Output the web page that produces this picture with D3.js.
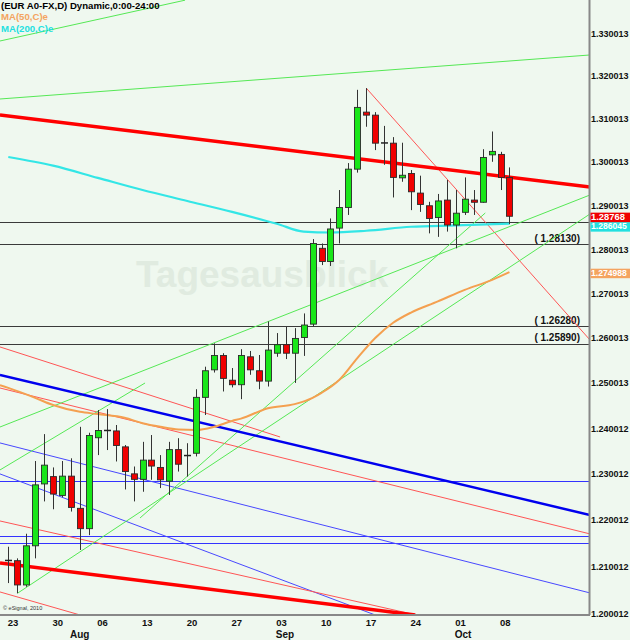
<!DOCTYPE html>
<html><head><meta charset="utf-8">
<script src="https://cdn.jsdelivr.net/npm/d3@7"></script>
<style>html,body{margin:0;padding:0;background:#eff8ef;}svg{display:block;}</style>
</head><body>
<script>
// ---------- DATA ----------
const dates = ["07-23","07-24","07-25","07-26","07-27","07-30","07-31","08-01","08-02","08-03",
"08-06","08-07","08-08","08-09","08-10","08-13","08-14","08-15","08-16","08-17",
"08-20","08-21","08-22","08-23","08-24","08-27","08-28","08-29","08-30","08-31",
"09-03","09-04","09-05","09-06","09-07","09-10","09-11","09-12","09-13","09-14",
"09-17","09-18","09-19","09-20","09-21","09-24","09-25","09-26","09-27","09-28",
"10-01","10-02","10-03","10-04","10-05","10-08","10-09"];
const open  = [1.2116,1.2114,1.2062,1.2146,1.2280,1.2296,1.2255,1.2297,1.2227,1.2183,
1.2381,1.2398,1.2396,1.2361,1.2302,1.2290,1.2332,1.2316,1.2286,1.2355,
1.2343,1.2347,1.2470,1.2531,1.2563,1.2508,1.2498,1.2560,1.2529,1.2506,
1.2568,1.2587,1.2568,1.2603,1.2633,1.2804,1.2774,1.2850,1.2897,1.2985,
1.3117,1.3110,1.3046,1.3045,1.2965,1.2975,1.2930,1.2901,1.2874,1.2914,
1.2857,1.2886,1.2914,1.2909,1.3018,1.3019,1.2966];
const high  = [1.2144,1.2119,1.2172,1.2330,1.2389,1.2316,1.2330,1.2336,1.2405,1.2392,
1.2442,1.2444,1.2409,1.2365,1.2318,1.2372,1.2387,1.2343,1.2372,1.2380,
1.2369,1.2488,1.2538,1.2590,1.2568,1.2535,1.2577,1.2573,1.2564,1.2639,
1.2613,1.2627,1.2624,1.2657,1.2825,1.2815,1.2872,1.2937,1.2999,1.3169,
1.3173,1.3117,1.3085,1.3059,1.3046,1.2983,1.2970,1.2910,1.2928,1.2960,
1.2937,1.2966,1.2937,1.3031,1.3072,1.3025,1.2989];
const low   = [1.2066,1.2044,1.2058,1.2119,1.2242,1.2225,1.2251,1.2220,1.2137,1.2169,
1.2343,1.2354,1.2329,1.2268,1.2242,1.2263,1.2289,1.2271,1.2256,1.2307,
1.2296,1.2340,1.2431,1.2525,1.2483,1.2492,1.2466,1.2520,1.2488,1.2494,
1.2560,1.2555,1.2502,1.2562,1.2627,1.2766,1.2764,1.2815,1.2880,1.2977,
1.3083,1.3029,1.2995,1.2920,1.2956,1.2891,1.2887,1.2838,1.2830,1.2842,
1.2804,1.2880,1.2880,1.2908,1.3002,1.2937,1.2859];
const close = [1.2113,1.2062,1.2146,1.2278,1.2321,1.2258,1.2297,1.2229,1.2183,1.2386,
1.2397,1.2396,1.2364,1.2307,1.2290,1.2332,1.2319,1.2289,1.2355,1.2323,
1.2341,1.2470,1.2529,1.2563,1.2512,1.2498,1.2563,1.2531,1.2506,1.2575,
1.2587,1.2568,1.2601,1.2631,1.2815,1.2774,1.2848,1.2897,1.2985,1.3128,
1.3110,1.3045,1.3045,1.2966,1.2971,1.2933,1.2904,1.2872,1.2912,1.2857,
1.2884,1.2916,1.2909,1.3012,1.3026,1.2966,1.2877];

const ma50Idx = [-0.93,0,3,5,8,10,13,15,17,19,21,23,25,26,29,32,34,35,37,39,41,43,45,48,51,54,56];
const ma50Val = [1.2497,1.2491,1.2469,1.2453,1.2438,1.2433,1.2425,1.2413,1.2405,1.2399,1.2398,1.2405,1.2418,1.2423,1.2446,1.2455,1.2469,1.2480,1.2509,1.2557,1.2602,1.2636,1.2659,1.2684,1.2710,1.2732,1.2750];
const ma200Idx = [0,5,10,15,20,25,30,33,36,40,45,50,56];
const ma200Val = [1.3013,1.2993,1.2965,1.2937,1.2912,1.2887,1.2860,1.2842,1.2840,1.2844,1.2853,1.2856,1.2860];

// trendlines: [index1, price1, index2, price2]
const greenLines = [
  [-0.93,1.32835,19.75,1.3380],
  [-0.93,1.31476,65,1.32506],
  [-0.93,1.24046,65,1.29257],
  [-0.93,1.23105,15.28,1.25018],
  [1.08,1.20449,65,1.28822],
  [14.72,1.22061,53.3,1.28845]
];
const redThickLines = [
  [-0.93,1.31103,65,1.29441],
  [-0.93,1.21091,45.47,1.19979]
];
const redThinLines = [
  [40,1.3173,65,1.25975],
  [-0.93,1.25820,30.37,1.23827],
  [-0.93,1.24907,65,1.21716],
  [-0.93,1.20470,8.02,1.19979],
  [-0.93,1.21996,45.58,1.19979]
];
const blueThickLines = [[-0.93,1.25196,65,1.22125]];
const blueThinLines = [
  [-0.93,1.23696,65,1.20449],
  [-0.93,1.23018,41.0,1.19979]
];
const blueLevels = [1.2287,1.2167,1.2153];
const blackLevels = [1.2863,1.2813,1.2628,1.2589];
const blackLevelLabels = ["","( 1.28130)","( 1.26280)","( 1.25890)"];

const priceTicks = ["1.330013","1.320013","1.310013","1.300013","1.290013","1.280013","1.270013","1.260013","1.250013","1.240012","1.230012","1.220012","1.210012","1.200012"];
const weekTickIdx = [0,5,10,15,20,25,30,35,40,45,50,55];
const weekTickLabels = ["23","30","06","13","20","27","03","10","17","24","01","08"];
const monthIdx = [7,30,50];
const monthLabels = ["Aug","Sep","Oct"];
const lastPrice = 1.28768, lastMA200 = 1.286045, lastMA50 = 1.274988;

// ---------- CHART ----------
const W = 630, H = 640, PW = 590, PH = 615;
const svg = d3.select("body").append("svg").attr("width", W).attr("height", H)
  .style("font-family", "'Liberation Sans', Arial, sans-serif");
svg.append("rect").attr("width", W).attr("height", H).attr("fill", "#eff8ef");

const x = d3.scaleLinear().domain([-0.928, 65]).range([0, PW]);
const y = d3.scaleLog().domain([1.20, 1.33]).range([614, 34]);

svg.append("clipPath").attr("id", "plot").append("rect").attr("width", PW).attr("height", PH);
const g = svg.append("g").attr("clip-path", "url(#plot)");

// watermark
g.append("text").attr("x", 136).attr("y", 287).text("Tagesausblick")
  .attr("font-size", 37).attr("font-weight", "bold").attr("fill", "#e0ebe0");

// level lines
blackLevels.forEach((v, k) => {
  g.append("line").attr("x1", 0).attr("x2", PW).attr("y1", Math.round(y(v)) + 0.5).attr("y2", Math.round(y(v)) + 0.5)
    .attr("stroke", "#3a3a3a").attr("stroke-width", 1);
  if (blackLevelLabels[k]) g.append("text").attr("x", 580).attr("y", y(v) - 2.5).attr("text-anchor", "end")
    .attr("font-size", 10).attr("font-weight", "bold").attr("fill", "#111").text(blackLevelLabels[k]);
});
blueLevels.forEach(v => {
  g.append("line").attr("x1", 0).attr("x2", PW).attr("y1", Math.round(y(v)) + 0.5).attr("y2", Math.round(y(v)) + 0.5)
    .attr("stroke", "#3333ff").attr("stroke-width", 1);
});

function drawLines(arr, color, width) {
  g.selectAll(null).data(arr).enter().append("line")
    .attr("x1", d => x(d[0])).attr("y1", d => y(d[1]))
    .attr("x2", d => x(d[2])).attr("y2", d => y(d[3]))
    .attr("stroke", color).attr("stroke-width", width);
}
drawLines(blueThinLines, "#4848ff", 1);
drawLines(redThinLines, "#ff5555", 1);
drawLines(greenLines, "#55e855", 1);
drawLines(blueThickLines, "#0000ee", 2.5);
drawLines(redThickLines, "#ff0000", 3.5);

// moving averages
const line = d3.line().x(d => x(d[0])).y(d => y(d[1])).curve(d3.curveMonotoneX);
g.append("path").datum(ma200Idx.map((i, k) => [i, ma200Val[k]])).attr("d", line)
  .attr("fill", "none").attr("stroke", "#33e6e6").attr("stroke-width", 2.2);
g.append("path").datum(ma50Idx.map((i, k) => [i, ma50Val[k]])).attr("d", line)
  .attr("fill", "none").attr("stroke", "#f4a050").attr("stroke-width", 2);

// candles
const candles = dates.map((d, i) => ({i, o: open[i], h: high[i], l: low[i], c: close[i]}));
const cg = g.selectAll(null).data(candles).enter().append("g");
cg.append("line").attr("x1", d => Math.round(x(d.i)) + 0.5).attr("x2", d => Math.round(x(d.i)) + 0.5)
  .attr("y1", d => y(d.h)).attr("y2", d => y(d.l)).attr("stroke", "#333").attr("stroke-width", 1);
cg.each(function(d) {
  const s = d3.select(this);
  const cx = Math.round(x(d.i)) + 0.5;
  const top = y(Math.max(d.o, d.c)), bot = y(Math.min(d.o, d.c));
  if (bot - top < 1.5) {
    s.append("line").attr("x1", cx - 3.5).attr("x2", cx + 3.5).attr("y1", (top + bot) / 2).attr("y2", (top + bot) / 2)
      .attr("stroke", "#222").attr("stroke-width", 1.5);
  } else {
    s.append("rect").attr("x", cx - 3).attr("width", 6).attr("y", top).attr("height", bot - top)
      .attr("fill", d.c >= d.o ? "#19e619" : "#f00000").attr("stroke", "#2a2a2a").attr("stroke-width", 0.9);
  }
});

// axes frame
svg.append("line").attr("x1", 589.5).attr("x2", 589.5).attr("y1", 0).attr("y2", PH).attr("stroke", "#888").attr("stroke-width", 2);
svg.append("line").attr("x1", 0).attr("x2", 590).attr("y1", PH).attr("y2", PH).attr("stroke", "#888").attr("stroke-width", 2);

// price axis labels
svg.selectAll(null).data(priceTicks).enter().append("text")
  .attr("x", 591).attr("y", d => y(+d) + 0.3).attr("dominant-baseline", "middle")
  .attr("font-size", 9).attr("font-weight", "bold").attr("fill", "#111").text(d => d);

// last value boxes
function box(cy, color, label, fs) {
  svg.append("rect").attr("x", 590.5).attr("y", cy - 4.5).attr("width", 39.5).attr("height", 9.5).attr("fill", color);
  svg.append("text").attr("x", 591).attr("y", cy + 0.5).attr("dominant-baseline", "middle")
    .attr("font-size", fs).attr("font-weight", "bold").attr("fill", "#fff").text(label);
}
const redY = y(lastPrice) + 0.8;
box(redY + 9.5, "#22e0e0", "1.286045", 8.6);
box(redY, "#f00000", "1.28768", 9.4);
box(y(lastMA50) + 1, "#f4a460", "1.274988", 8.6);

// time axis labels
svg.selectAll(null).data(weekTickIdx).enter().append("text")
  .attr("x", d => x(d) - 0.5).attr("y", 626).attr("font-size", 9.5).attr("font-weight", "bold").attr("fill", "#111")
  .text((d, k) => weekTickLabels[k]);
svg.selectAll(null).data(monthIdx).enter().append("text")
  .attr("x", d => x(d) - 1).attr("y", 638).attr("font-size", 10).attr("font-weight", "bold").attr("fill", "#111")
  .text((d, k) => monthLabels[k]);

// legend
svg.append("text").attr("x", 1).attr("y", 9).attr("font-size", 9.6).attr("font-weight", "bold").attr("fill", "#000")
  .text("(EUR A0-FX,D) Dynamic,0:00-24:00");
svg.append("text").attr("x", 1).attr("y", 20).attr("font-size", 9.6).attr("font-weight", "bold").attr("fill", "#f4a460")
  .text("MA(50,C)e");
svg.append("text").attr("x", 1).attr("y", 32).attr("font-size", 9.6).attr("font-weight", "bold").attr("fill", "#22e0e0")
  .text("MA(200,C)e");
svg.append("text").attr("x", 3).attr("y", 610).attr("font-size", 5.5).attr("fill", "#333").text("© eSignal, 2010");
</script>
</body></html>
